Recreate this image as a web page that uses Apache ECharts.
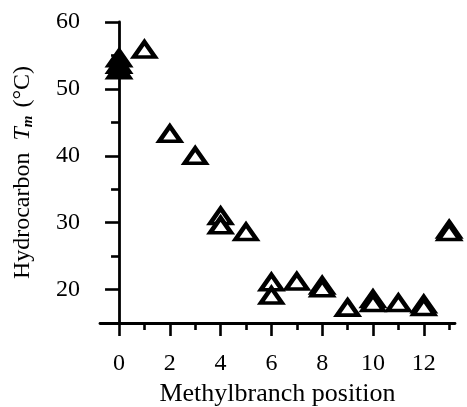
<!DOCTYPE html>
<html>
<head>
<meta charset="utf-8">
<script src="https://cdn.jsdelivr.net/npm/echarts@6/dist/echarts.min.js"></script>
<style>
  html, body { margin: 0; padding: 0; background: #fff; }
  #chart { width: 467px; height: 407px; }
</style>
</head>
<body>
<div id="chart"></div>
<script>
// Melting temperature of methyl-branched hydrocarbons vs. branch position
const majorXTicks = [0, 2, 4, 6, 8, 10, 12];
const minorXTicks = [1, 3, 5, 7, 9, 11, 13];
const majorYTicks = [20, 30, 40, 50, 60];
const minorYTicks = [25, 35, 45, 55];

// open triangles
const openPosition = [1, 2, 3, 4, 4, 5, 6, 6, 7, 8, 8, 9, 10, 10, 11, 12, 12, 13, 13];
const openTm = [55.9, 43.3, 40.0, 31.0, 29.6, 28.6, 21.1, 19.1, 21.2, 20.6, 20.2, 17.3, 18.6, 18.0, 18.0, 17.8, 17.4, 29.0, 28.6];

// filled triangles
const filledPosition = [0, 0, 0];
const filledTm = [54.6, 53.6, 52.8];

const pairs = (xs, ys) => xs.map((x, i) => [x, ys[i]]);

const serif = 'Liberation Serif';
const black = '#000';

const chart = echarts.init(document.getElementById('chart'), null, { renderer: 'canvas' });

const xBase = {
  type: 'value',
  min: -0.75,
  max: 13.23,
  gridIndex: 0,
  splitLine: { show: false },
  position: 'bottom'
};
const yBase = {
  type: 'value',
  min: 15,
  max: 60,
  gridIndex: 0,
  offset: -8,
  splitLine: { show: false },
  position: 'left'
};

chart.setOption({
  animation: false,
  backgroundColor: '#fff',
  grid: { left: 100, right: 12, top: 22, bottom: 84, outerBoundsMode: 'none', containLabel: false },
  xAxis: [
    Object.assign({}, xBase, {
      name: 'Methylbranch position',
      nameLocation: 'middle',
      nameGap: 50,
      nameTextStyle: { fontFamily: serif, fontSize: 26, color: black },
      axisLine: { lineStyle: { color: black, width: 2.8 } },
      axisTick: { customValues: majorXTicks, length: 13, lineStyle: { color: black, width: 2.6 } },
      axisLabel: { customValues: majorXTicks, margin: 29, fontFamily: serif, fontSize: 24, color: black }
    }),
    Object.assign({}, xBase, {
      axisLine: { show: false },
      axisTick: { customValues: minorXTicks, length: 7, lineStyle: { color: black, width: 2.6 } },
      axisLabel: { show: false }
    })
  ],
  yAxis: [
    Object.assign({}, yBase, {
      name: '{a|Hydrocarbon  }{t|T}{s|m}{a| (°C)}',
      nameLocation: 'middle',
      nameRotate: 90,
      nameGap: 72,
      nameTextStyle: {
        rich: {
          a: { fontFamily: serif, fontSize: 24, color: black },
          t: { fontFamily: serif, fontSize: 24, fontStyle: 'italic', color: black },
          s: { fontFamily: serif, fontSize: 15, fontStyle: 'italic', fontWeight: 'bold', color: black, padding: [11, 2, 0, 0] }
        }
      },
      axisLine: { lineStyle: { color: black, width: 2.8 } },
      axisTick: { customValues: majorYTicks, length: 14, lineStyle: { color: black, width: 2.6 } },
      axisLabel: { customValues: majorYTicks, margin: 28, fontFamily: serif, fontSize: 24, color: black }
    }),
    Object.assign({}, yBase, {
      axisLine: { show: false },
      axisTick: { customValues: minorYTicks, length: 8, lineStyle: { color: black, width: 2.6 } },
      axisLabel: { show: false }
    })
  ],
  series: [
    {
      type: 'scatter',
      xAxisIndex: 0,
      yAxisIndex: 0,
      symbol: 'triangle',
      symbolSize: [21, 15],
      itemStyle: { color: '#fff', borderColor: black, borderWidth: 4.2, opacity: 1 },
      data: pairs(openPosition, openTm),
      z: 3
    },
    {
      type: 'scatter',
      xAxisIndex: 0,
      yAxisIndex: 0,
      symbol: 'triangle',
      symbolSize: [21, 15],
      itemStyle: { color: black, borderColor: black, borderWidth: 4.2, opacity: 1 },
      data: pairs(filledPosition, filledTm),
      z: 4
    }
  ]
});
</script>
</body>
</html>
